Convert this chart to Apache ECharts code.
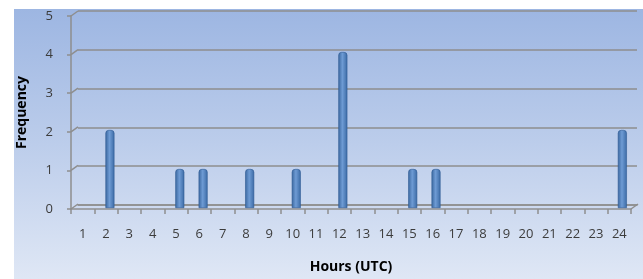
<!DOCTYPE html>
<html>
<head>
<meta charset="utf-8">
<script src="https://cdn.jsdelivr.net/npm/echarts@6/dist/echarts.min.js"></script>
<style>
  html, body { margin: 0; padding: 0; background: #fff; }
  #chart { width: 643px; height: 279px; }
</style>
</head>
<body>
<div id="chart"></div>
<script>
// hour of day (UTC) and how often each one came up
var hours = ['1','2','3','4','5','6','7','8','9','10','11','12',
             '13','14','15','16','17','18','19','20','21','22','23','24'];
var counts = [0, 2, 0, 0, 1, 1, 0, 1, 0, 1, 0, 4,
              0, 0, 1, 1, 0, 0, 0, 0, 0, 0, 0, 2];
var yTicks = [0, 1, 2, 3, 4, 5];

var chartDom = document.getElementById('chart');
var myChart = echarts.init(chartDom);

var gridColor = '#8e8e8e';
var textColor = '#3c3c3c';
var font = '"Open Sans", Lato, sans-serif';

// little slanted joins between the front axis and the back wall
function renderJoin(params, api) {
  var cs = params.coordSys;
  var p = api.coord([0, api.value(0)]);
  var x = cs.x;
  return {
    type: 'line',
    shape: { x1: x, y1: p[1], x2: x + 7, y2: p[1] - 5 },
    style: { stroke: gridColor, lineWidth: 1.5 }
  };
}

var option = {
  animation: false,
  graphic: [{
    type: 'rect',
    z: -10,
    shape: { x: 14, y: 9, width: 629, height: 270 },
    style: {
      fill: new echarts.graphic.LinearGradient(0, 0, 0, 1, [
        { offset: 0, color: '#9db6e2' },
        { offset: 0.5, color: '#bccdeb' },
        { offset: 1, color: '#dfe7f5' }
      ])
    }
  }],
  grid: [
    { left: 71, right: 12, top: 16, bottom: 69 },   // front: axes, ticks, labels
    { left: 78, right: 6, top: 11, bottom: 74 },    // back wall: gridlines
    { left: 75, right: 9, top: 13, bottom: 71 }     // bars, half way in depth
  ],
  xAxis: [{
    gridIndex: 0,
    type: 'category',
    data: hours,
    boundaryGap: true,
    name: 'Hours (UTC)',
    nameLocation: 'middle',
    nameGap: 51,
    nameTextStyle: { color: '#000', fontWeight: 'bold', fontSize: 14, fontFamily: font },
    axisLine: { lineStyle: { color: gridColor, width: 1.5 } },
    axisTick: { show: true, length: 5, alignWithLabel: false, lineStyle: { color: gridColor, width: 1.5 } },
    axisLabel: { color: textColor, fontSize: 13, fontFamily: font, margin: 19, interval: 0 }
  }, {
    gridIndex: 1,
    type: 'category',
    data: hours,
    axisLine: { show: true, lineStyle: { color: gridColor, width: 1.5 } },
    axisTick: { show: false },
    axisLabel: { show: false }
  }, {
    gridIndex: 2,
    type: 'category',
    data: hours,
    show: false
  }],
  yAxis: [{
    gridIndex: 0,
    type: 'value',
    min: 0,
    max: 5,
    interval: 1,
    name: 'Frequency',
    nameLocation: 'middle',
    nameGap: 42,
    nameRotate: 90,
    nameTextStyle: { color: '#000', fontWeight: 'bold', fontSize: 14, fontFamily: font },
    axisLine: { show: true, lineStyle: { color: gridColor, width: 1.5 } },
    axisTick: { show: true, length: 4, lineStyle: { color: gridColor, width: 1.5 } },
    axisLabel: { color: textColor, fontSize: 13, fontFamily: font, margin: 18 },
    splitLine: { show: false }
  }, {
    gridIndex: 1,
    type: 'value',
    min: 0,
    max: 5,
    interval: 1,
    axisLine: { show: false },
    axisTick: { show: false },
    axisLabel: { show: false },
    splitLine: { show: true, lineStyle: { color: gridColor, width: 1.5 } }
  }, {
    gridIndex: 2,
    type: 'value',
    min: 0,
    max: 5,
    interval: 1,
    show: false,
    splitLine: { show: false }
  }],
  series: [{
    type: 'custom',
    xAxisIndex: 0,
    yAxisIndex: 0,
    data: yTicks.map(function (v) { return [v]; }),
    encode: { y: 0 },
    renderItem: renderJoin,
    silent: true,
    z: 1
  }, {
    // right end of the floor
    type: 'custom',
    xAxisIndex: 0,
    yAxisIndex: 0,
    data: [[0]],
    encode: { y: 0 },
    renderItem: function (params, api) {
      var cs = params.coordSys;
      var p = api.coord([0, api.value(0)]);
      var x = cs.x + cs.width;
      return {
        type: 'line',
        shape: { x1: x, y1: p[1], x2: x + 7, y2: p[1] - 5 },
        style: { stroke: gridColor, lineWidth: 1.5 }
      };
    },
    silent: true,
    z: 1
  }, {
    type: 'bar',
    xAxisIndex: 2,
    yAxisIndex: 2,
    data: counts.map(function (v) { return v === 0 ? null : v; }),
    barWidth: 9,
    z: 5,
    itemStyle: {
      borderRadius: [3, 3, 0, 0],
      borderColor: '#2f5b93',
      borderWidth: 0.6,
      color: new echarts.graphic.LinearGradient(0, 0, 1, 0, [
        { offset: 0, color: '#3a679f' },
        { offset: 0.45, color: '#6e9bd4' },
        { offset: 1, color: '#3b6aa5' }
      ])
    }
  }]
};

option && myChart.setOption(option);
</script>
</body>
</html>
